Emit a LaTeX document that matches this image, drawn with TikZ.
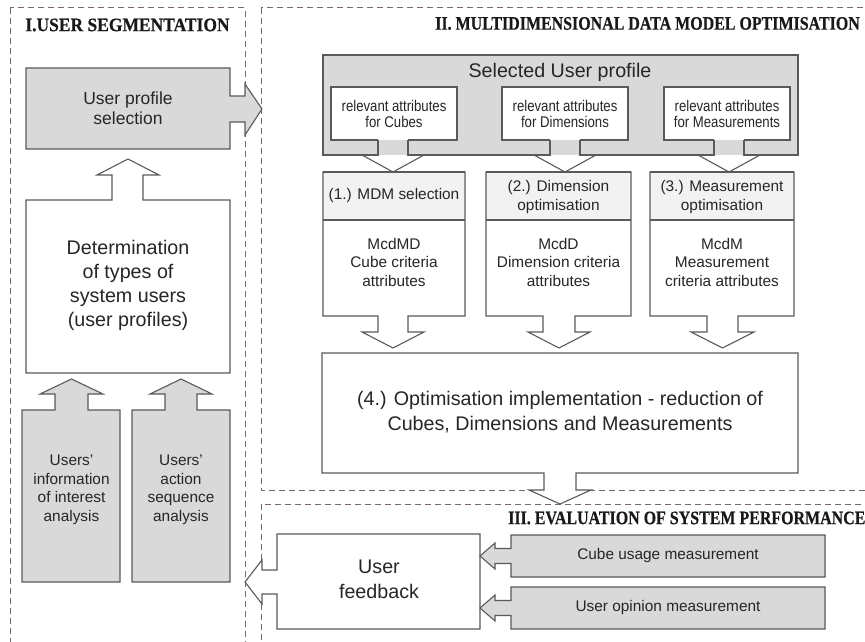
\documentclass[tikz,border=0pt]{standalone}
\usepackage{fontspec}
\setmainfont{Liberation Sans}
\newfontfamily\narrowsans[FakeStretch=0.85]{Liberation Sans}
\newfontfamily\headserif[FakeStretch=0.92,FakeBold=0.4]{Liberation Serif}
\newfontfamily\headserifnarrow[FakeStretch=0.84,FakeBold=0.4]{Liberation Serif}

\definecolor{boxgray}{HTML}{D9D9D9}
\definecolor{headgray}{HTML}{F2F2F2}
\definecolor{edgegray}{HTML}{5A5A5A}
\definecolor{dashcol}{HTML}{7A6868}
\definecolor{inktext}{HTML}{262626}

\tikzset{
  blk/.style={draw=edgegray, line width=1.1pt, line join=miter},
  blkgray/.style={blk, fill=boxgray},
  blkwhite/.style={blk, fill=white},
  container/.style={draw=dashcol, line width=1pt, dash pattern=on 6pt off 4pt},
  sectitle/.style={font=\headserifnarrow\bfseries\fontsize{19}{21}\selectfont, text=black!90, inner sep=0pt},
  bigtxt/.style={font=\fontsize{19.7}{24}\selectfont, align=center, text=inktext, inner sep=0pt},
  medtxt/.style={font=\fontsize{17.5}{20}\selectfont, align=center, text=inktext, inner sep=0pt},
  smtxt/.style={font=\fontsize{15.4}{18.5}\selectfont, align=center, text=inktext, inner sep=0pt},
  narrowtxt/.style={font=\narrowsans\fontsize{15.5}{16}\selectfont, align=center, text=inktext, inner sep=0pt}
}

\begin{document}
\begin{tikzpicture}[x=1pt,y=-1pt]
\useasboundingbox (0,0) rectangle (865,642);
\clip (0,0) rectangle (865,642);
\fill[white] (0,0) rectangle (865,642);

% ---------- section frames ----------
\draw[container] (10,8) rectangle (245,660);
\draw[container] (261,8) rectangle (890,490);
\draw[container] (261,504) rectangle (890,670);

\node[sectitle, font=\headserif\bfseries\fontsize{19}{21}\selectfont] (t1) at (127.5,25) {I.USER SEGMENTATION};
\node[sectitle, anchor=west] (t2) at (435,23.5) {II. MULTIDIMENSIONAL DATA MODEL OPTIMISATION};
\node[sectitle, anchor=west] (t3) at (508,518) {III. EVALUATION OF SYSTEM PERFORMANCE};

% ---------- I. user segmentation ----------
% user profile selection, pointing right
\draw[blkgray] (26,68) -- (230,68) -- (230,96) -- (245,96) -- (245,84) -- (262,109)
  -- (245,135) -- (245,122) -- (230,122) -- (230,149) -- (26,149) -- cycle;
\node[medtxt] (ups) at (128,108) {User profile\\selection};

% determination of user types, pointing up
\draw[blkwhite] (26,373) -- (26,200) -- (112,200) -- (112,175) -- (97,175) -- (128,159)
  -- (159,175) -- (143,175) -- (143,200) -- (230,200) -- (230,373) -- cycle;
\node[bigtxt] (det) at (128,285) {Determination\\of types of\\system users\\(user profiles)};

% two analyses, pointing up
\draw[blkgray] (22,582) -- (22,410) -- (55,410) -- (55,394) -- (40,394) -- (71.5,379)
  -- (103,394) -- (88,394) -- (88,410) -- (120,410) -- (120,582) -- cycle;
\node[smtxt] (ana1) at (71.5,490) {Users'\\information\\of interest\\analysis};
\draw[blkgray] (132,582) -- (132,410) -- (165,410) -- (165,394) -- (150,394) -- (181,379)
  -- (212,394) -- (197,394) -- (197,410) -- (230,410) -- (230,582) -- cycle;
\node[smtxt] (ana2) at (181,490) {Users'\\action\\sequence\\analysis};

% ---------- II. data model optimisation ----------
% selected user profile panel
\fill[boxgray] (323,55) rectangle (798,155);
\draw[blk] (378,140) -- (378,155) -- (323,155) -- (323,55) -- (798,55) -- (798,155) -- (744,155) -- (744,140);
\draw[blk] (408,140) -- (408,155) -- (550,155) -- (550,140);
\draw[blk] (580,140) -- (580,155) -- (714,155) -- (714,140);
\node[bigtxt] (sup) at (560,72) {Selected User profile};

% relevant attribute boxes
\fill[white] (331,87) rectangle (457,140);
\draw[blk] (378,140) -- (331,140) -- (331,87) -- (457,87) -- (457,140) -- (408,140);
\fill[white] (502,87) rectangle (628,140);
\draw[blk] (550,140) -- (502,140) -- (502,87) -- (628,87) -- (628,140) -- (580,140);
\fill[white] (664,87) rectangle (790,140);
\draw[blk] (714,140) -- (664,140) -- (664,87) -- (790,87) -- (790,140) -- (744,140);
\node[narrowtxt] (rc) at (394,114) {relevant attributes\\for Cubes};
\node[narrowtxt] (rd) at (565,114) {relevant attributes\\for Dimensions};
\node[narrowtxt] (rm) at (727,114) {relevant attributes\\for Measurements};

% arrow heads below the panel
\draw[blk] (362,155) -- (393,172) -- (424,155);
\draw[blk] (534,155) -- (565,172) -- (596,155);
\draw[blk] (698,155) -- (729,172) -- (760,155);

% (1.) MDM selection
\draw[blkwhite] (323,172) -- (465,172) -- (465,316) -- (408,316) -- (408,332) -- (424,332)
  -- (393,348) -- (362,332) -- (378,332) -- (378,316) -- (323,316) -- cycle;
\fill[headgray] (323.6,172.6) rectangle (464.4,220);
\draw[blk] (323,172) -- (465,172);
\draw[blk] (323,220) -- (465,220);
\node[smtxt] (h1) at (394,196) {(1.) MDM selection};
\node[smtxt] (b1) at (394,262) {McdMD\\Cube criteria\\attributes};

% (2.) dimension optimisation
\draw[blkwhite] (486,172) -- (631,172) -- (631,316) -- (575,316) -- (575,332) -- (590,332)
  -- (559,348) -- (528,332) -- (543,332) -- (543,316) -- (486,316) -- cycle;
\fill[headgray] (486.6,172.6) rectangle (630.4,220);
\draw[blk] (486,172) -- (631,172);
\draw[blk] (486,220) -- (631,220);
\node[smtxt] (h2) at (558.5,197) {(2.) Dimension\\optimisation};
\node[smtxt] (b2) at (558.5,262) {McdD\\Dimension criteria\\attributes};

% (3.) measurement optimisation
\draw[blkwhite] (650,172) -- (794,172) -- (794,316) -- (738,316) -- (738,332) -- (754,332)
  -- (722.5,348) -- (691,332) -- (707,332) -- (707,316) -- (650,316) -- cycle;
\fill[headgray] (650.6,172.6) rectangle (793.4,220);
\draw[blk] (650,172) -- (794,172);
\draw[blk] (650,220) -- (794,220);
\node[smtxt] (h3) at (722,197) {(3.) Measurement\\optimisation};
\node[smtxt] (b3) at (722,262) {McdM\\Measurement\\criteria attributes};

% (4.) optimisation implementation, pointing down
\draw[blkwhite] (322,353) -- (798,353) -- (798,473) -- (576,473) -- (576,490) -- (591,490)
  -- (560,504) -- (529,490) -- (544,490) -- (544,473) -- (322,473) -- cycle;
\node[bigtxt, font=\fontsize{19.7}{25}\selectfont] (impl) at (560,412)
  {(4.) Optimisation implementation - reduction of\\Cubes, Dimensions and Measurements};

% ---------- III. evaluation ----------
\draw[blkwhite] (277,534) -- (480,534) -- (480,629) -- (277,629) -- (277,594) -- (262,594)
  -- (262,604) -- (245,582) -- (262,560) -- (262,570) -- (277,570) -- cycle;
\node[bigtxt, font=\fontsize{19.7}{25}\selectfont] (fb) at (379,579) {User\\feedback};

\draw[blkgray] (511,535) -- (825,535) -- (825,577) -- (511,577) -- (511,563.5) -- (495,563.5)
  -- (495,569) -- (480,556) -- (495,543) -- (495,548.5) -- (511,548.5) -- cycle;
\node[smtxt] (cu) at (668,556) {Cube usage measurement};

\draw[blkgray] (511,587) -- (825,587) -- (825,629) -- (511,629) -- (511,615.5) -- (495,615.5)
  -- (495,621) -- (480,608) -- (495,595) -- (495,600.5) -- (511,600.5) -- cycle;
\node[smtxt] (uo) at (668,608) {User opinion measurement};
\end{tikzpicture}
\end{document}
